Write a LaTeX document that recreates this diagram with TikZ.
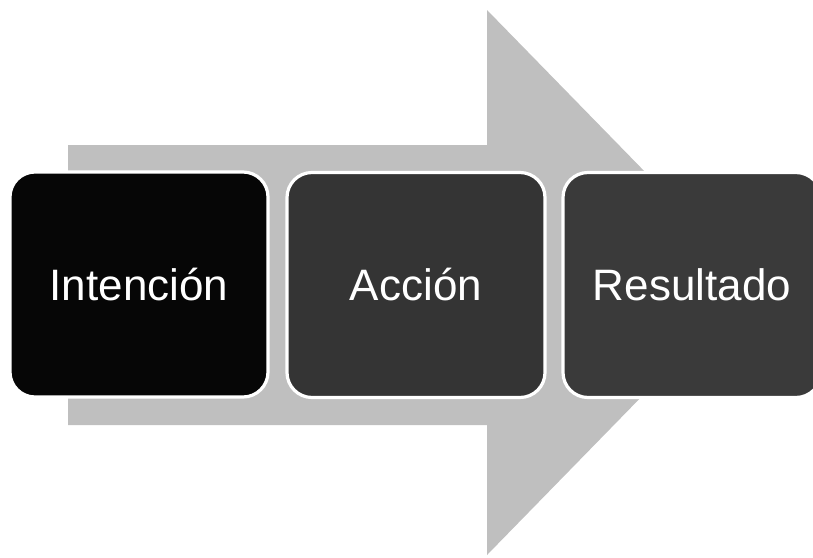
\documentclass[tikz,border=0pt]{standalone}
\RequirePackage{xcolor}
\definecolor{PRcolArrow}{HTML}{bfbfbf}
\definecolor{PRcolBox01}{HTML}{060606}
\definecolor{PRcolBox02}{HTML}{343434}
\definecolor{PRcolBox03}{HTML}{3a3a3a}
\usepackage{fontspec}
\setmainfont{Liberation Sans}
\usepackage{tikz}

\begin{document}
\begin{tikzpicture}[y=0.75pt, x=0.75pt, yscale=-1.000000, xscale=1.000000, inner sep=0pt, outer sep=0pt,
  stagebox/.style={draw=white, line width=2.4pt, rounded corners=18.75pt,
    minimum width=193.5pt, minimum height=168.75pt, text=white,
    font=\fontsize{33}{40}\selectfont}]
  \useasboundingbox (0,0) rectangle (813,557);
  \clip (0,0) rectangle (813,557);
  \path[fill=PRcolArrow,line width=0pt] (68,145) -- (487,145) -- (487,10) --
    (753,282.5) -- (487,555) -- (487,425) -- (68,425) -- cycle;
  \node[stagebox,fill=PRcolBox01] (intencion) at (139,284.5) {Intención};
  \node[stagebox,fill=PRcolBox02] (accion) at (416,285) {Acción};
  \node[stagebox,fill=PRcolBox03] (resultado) at (692,285) {Resultado};
\end{tikzpicture}
\end{document}
